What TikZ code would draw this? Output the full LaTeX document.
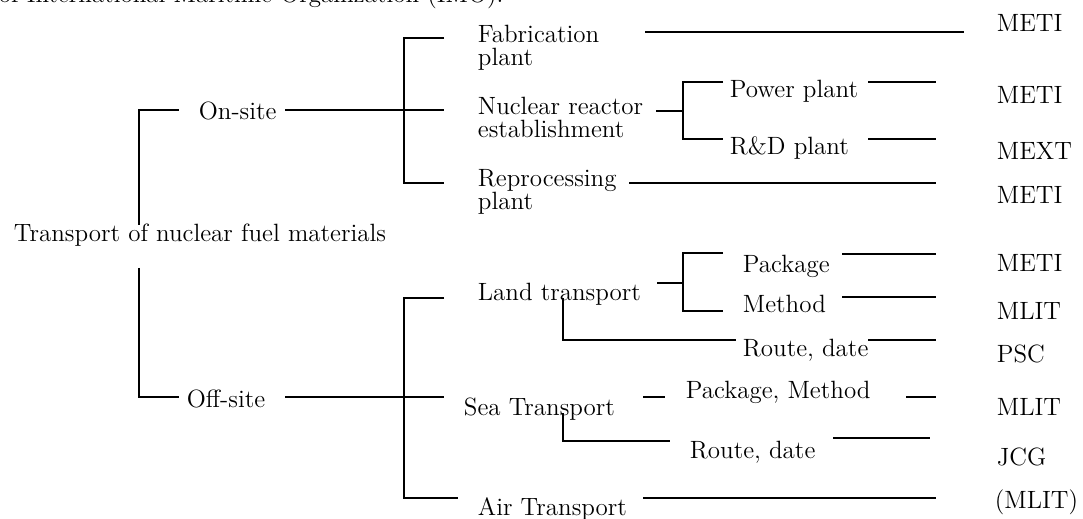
\documentclass[tikz,border=0pt]{standalone}
\usetikzlibrary{calc}

\begin{document}
\begin{tikzpicture}[x=0.5pt,y=-0.5pt,line width=0.9pt,
  txt/.style={anchor=base west,inner sep=0pt,align=left,font=\fontsize{12.5}{11.5}\selectfont},
  org/.style={txt}]
  \useasboundingbox (0,0) rectangle (1083,519);

  % texts (base of a two-line node is its last line)
  \node[txt] (imo) at (-2,3) {of International Maritime Organization (IMO).};
  \node[txt] (root) at (13,242) {Transport of nuclear fuel materials};
  \node[txt] (onsite) at (198,120) {On-site};
  \node[txt] (offsite) at (186,407) {Off-site};
  \node[txt] (fab) at (477,66) {Fabrication\\plant};
  \node[txt] (nuc) at (477,138) {Nuclear reactor\\establishment};
  \node[txt] (repro) at (477,210) {Reprocessing\\plant};
  \node[txt] (power) at (729,98) {Power plant};
  \node[txt] (rnd) at (729,155) {R\&D plant};
  \node[txt] (land) at (477,300) {Land transport};
  \node[txt] (sea) at (463,415) {Sea Transport};
  \node[txt] (air) at (477,515) {Air Transport};
  \node[txt] (lpack) at (742,272) {Package};
  \node[txt] (lmeth) at (742,313) {Method};
  \node[txt] (lroute) at (742,357) {Route, date};
  \node[txt] (spack) at (685,398) {Package, Method};
  \node[txt] (sroute) at (689,458) {Route, date};

  % ministries
  \node[org] (m1) at (996,32) {METI};
  \node[org] (m2) at (996,104) {METI};
  \node[org] (m3) at (996,160) {MEXT};
  \node[org] (m4) at (996,204) {METI};
  \node[org] (m5) at (996,271) {METI};
  \node[org] (m6) at (996,320) {MLIT};
  \node[org] (m7) at (996,362) {PSC};
  \node[org] (m8) at (996,415) {MLIT};
  \node[org] (m9) at (996,465) {JCG};
  \node[org] (m10) at (994,508) {(MLIT)};

  % root bracket
  \coordinate (rt) at (139,225); \coordinate (ron) at (139,110); \coordinate (ronE) at (179,110);
  \coordinate (rb) at (139,268); \coordinate (roff) at (139,397); \coordinate (roffE) at (179,397);
  \draw (rt) -- (ron) -- (ronE);
  \draw (rb) -- (roff) -- (roffE);

  % on-site
  \coordinate (onA) at (285,110); \coordinate (b1) at (404,110);
  \coordinate (b1t) at (404,38); \coordinate (b1b) at (404,183);
  \coordinate (f0) at (444,38); \coordinate (n0) at (444,110); \coordinate (p0) at (444,183);
  \draw (onA) -- (b1) -- (n0);
  \draw (f0) -- (b1t) -- (b1b) -- (p0);

  \coordinate (fl1) at (645,32); \coordinate (fl2) at (964,32);
  \draw (fl1) -- (fl2);
  \coordinate (nc1) at (656,111); \coordinate (b3) at (683,111);
  \coordinate (b3t) at (683,82); \coordinate (b3b) at (683,139);
  \coordinate (pw0) at (723,82); \coordinate (rd0) at (723,139);
  \draw (nc1) -- (b3);
  \draw (pw0) -- (b3t) -- (b3b) -- (rd0);
  \coordinate (pw1) at (868,82); \coordinate (pw2) at (936,82);
  \coordinate (rd1) at (868,139); \coordinate (rd2) at (936,139);
  \draw (pw1) -- (pw2);
  \draw (rd1) -- (rd2);
  \coordinate (rp1) at (629,183); \coordinate (rp2) at (936,183);
  \draw (rp1) -- (rp2);

  % off-site
  \coordinate (offA) at (285,397); \coordinate (b2) at (404,397);
  \coordinate (b2t) at (404,298); \coordinate (b2b) at (404,498);
  \coordinate (l0) at (444,298); \coordinate (s0) at (444,397); \coordinate (a0) at (458,498);
  \draw (offA) -- (b2) -- (s0);
  \draw (l0) -- (b2t) -- (b2b) -- (a0);

  \coordinate (ld1) at (657,283); \coordinate (b4) at (683,283);
  \coordinate (b4t) at (683,253); \coordinate (b4b) at (683,311);
  \coordinate (pk0) at (723,253); \coordinate (mt0) at (723,311);
  \draw (ld1) -- (b4);
  \draw (pk0) -- (b4t) -- (b4b) -- (mt0);
  \coordinate (pk1) at (842,254); \coordinate (pk2) at (936,254);
  \coordinate (mt1) at (842,297); \coordinate (mt2) at (936,297);
  \draw (pk1) -- (pk2);
  \draw (mt1) -- (mt2);
  \coordinate (lr0) at (563,298); \coordinate (lr1) at (563,340); \coordinate (lr2) at (736,340);
  \coordinate (lr3) at (868,340); \coordinate (lr4) at (936,340);
  \draw (lr0) -- (lr1) -- (lr2);
  \draw (lr3) -- (lr4);

  \coordinate (sp1) at (643,397); \coordinate (sp2) at (665,397);
  \coordinate (sp3) at (906,397); \coordinate (sp4) at (936,397);
  \draw (sp1) -- (sp2);
  \draw (sp3) -- (sp4);
  \coordinate (sr0) at (563,413); \coordinate (sr1) at (563,441); \coordinate (sr2) at (670,441);
  \coordinate (sr3) at (833,438); \coordinate (sr4) at (930,438);
  \draw (sr0) -- (sr1) -- (sr2);
  \draw (sr3) -- (sr4);

  \coordinate (ar1) at (643,498); \coordinate (ar2) at (936,498);
  \draw (ar1) -- (ar2);
\end{tikzpicture}
\end{document}
